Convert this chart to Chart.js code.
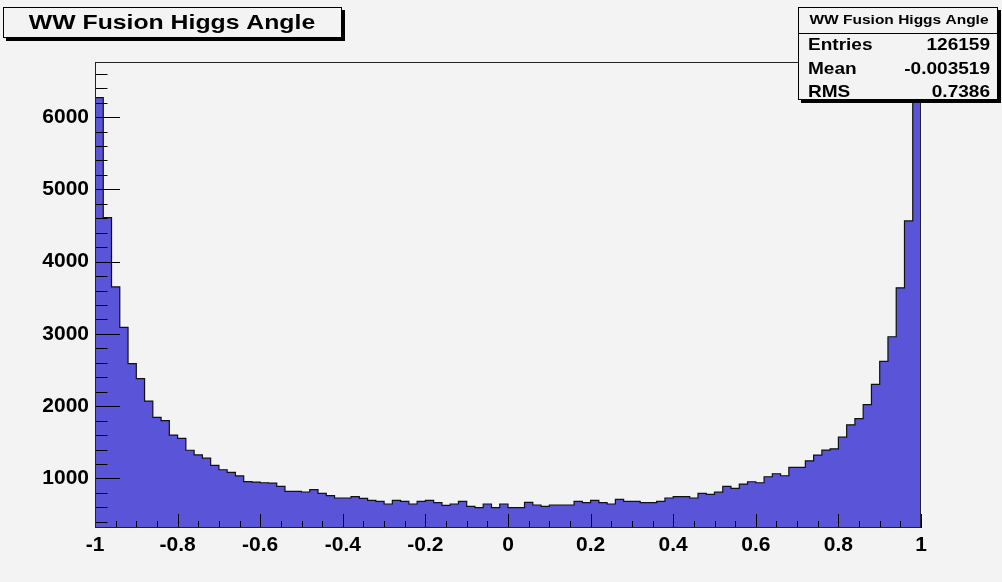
<!DOCTYPE html>
<html>
<head>
<meta charset="utf-8">
<title>WW Fusion Higgs Angle</title>
<script src="https://cdn.jsdelivr.net/npm/chart.js@4.4.1/dist/chart.umd.min.js"></script>
<style>
    html, body { margin: 0; padding: 0; background: #f3f3f3; }
    canvas { display: block; }
</style>
</head>
<body>
<canvas id="histo" width="1002" height="582"></canvas>
<script>
// histogram: 100 bins between -1 and 1, counts
const binLow = -1;
const binHigh = 1;
const counts = [
    6270, 4610, 3650, 3090, 2590, 2380, 2070, 1845, 1800, 1600,
    1555, 1390, 1325, 1280, 1180, 1120, 1085, 1035, 955, 950,
    940, 935, 890, 820, 820, 812, 844, 793, 761, 729,
    729, 747, 724, 696, 683, 646, 696, 683, 646, 683,
    696, 664, 627, 646, 683, 613, 595, 646, 595, 646,
    595, 595, 669, 632, 613, 632, 632, 632, 683, 664,
    696, 664, 646, 710, 683, 683, 664, 664, 683, 729,
    747, 747, 729, 793, 779, 810, 890, 862, 922, 954,
    940, 1023, 1065, 1037, 1152, 1152, 1244, 1323, 1392, 1410,
    1571, 1742, 1829, 2022, 2303, 2621, 2961, 3638, 4564, 6470
];
const xTicks = [-1, -0.8, -0.6, -0.4, -0.2, 0, 0.2, 0.4, 0.6, 0.8, 1];
const yTicks = [1000, 2000, 3000, 4000, 5000, 6000];
const yMin = 314;
const yMax = 6763;

const histTitle = "WW Fusion Higgs Angle";
const statsLabels = ["Entries", "Mean", "RMS"];
const statsValues = ["126159", "-0.003519", "0.7386"];

const FONT = "'Liberation Sans', Arial, Helvetica, sans-serif";
const FILL = "#5954d8";

// step points at each bin's low edge, plus the closing edge at x = 1
const binWidth = (binHigh - binLow) / counts.length;
const points = counts.map((c, i) => ({ x: binLow + i * binWidth, y: c }));
points.push({ x: binHigh, y: counts[counts.length - 1] });

// text is drawn a bit wider than the canvas font, like ROOT's Helvetica
function wideText(ctx, text, x, y, size, stretch, align){
    ctx.save();
    ctx.font = `bold ${size}px ${FONT}`;
    ctx.fillStyle = "#000";
    ctx.textBaseline = "alphabetic";
    ctx.textAlign = align;
    ctx.translate(x, y);
    ctx.scale(stretch, 1);
    ctx.fillText(text, 0, 0);
    ctx.restore();
}

function paveBox(ctx, x, y, w, h){
    ctx.save();
    ctx.fillStyle = "#000";
    ctx.fillRect(x + 3, y + h, w, 3);      // shadow bottom
    ctx.fillRect(x + w, y + 3, 3, h);      // shadow right
    ctx.fillStyle = "#f3f3f3";
    ctx.fillRect(x, y, w, h);
    ctx.strokeStyle = "#000";
    ctx.lineWidth = 1;
    ctx.strokeRect(x + 0.5, y + 0.5, w - 1, h - 1);
    ctx.restore();
}

const rootDecor = {
    id: "rootDecor",
    beforeDraw(chart){
        const { ctx, width, height } = chart;
        ctx.save();
        ctx.fillStyle = "#f3f3f3";
        ctx.fillRect(0, 0, width, height);
        ctx.restore();
    },
    afterDatasetsDraw(chart){
        const { ctx, chartArea: a, scales } = chart;
        const xs = scales.x, ys = scales.y;
        ctx.save();
        ctx.strokeStyle = "#000";
        ctx.lineWidth = 1;
        ctx.beginPath();
        // y ticks: major every 1000, minor every 200, drawn inward
        for (let v = Math.ceil(yMin / 200) * 200; v <= yMax; v += 200) {
            const py = Math.round(ys.getPixelForValue(v)) + 0.5;
            const len = v % 1000 === 0 ? 25 : 12.5;
            ctx.moveTo(a.left, py);
            ctx.lineTo(a.left + len, py);
        }
        // x ticks: major every 0.2, minor every 0.05
        for (let k = 0; k <= 40; k++) {
            const v = binLow + k * 0.05;
            const px = Math.round(xs.getPixelForValue(v)) + 0.5;
            const len = k % 4 === 0 ? 14 : 7;
            ctx.moveTo(px, a.bottom);
            ctx.lineTo(px, a.bottom - len);
        }
        ctx.stroke();
        ctx.strokeStyle = "#222";
        ctx.strokeRect(a.left + 0.5, a.top + 0.5, a.right - a.left - 1, a.bottom - a.top - 1);
        ctx.restore();
    },
    afterDraw(chart){
        const { ctx } = chart;

        // title pave
        paveBox(ctx, 3, 7, 339, 31);
        wideText(ctx, histTitle, 172, 29, 21, 1.18, "center");

        // stats pave
        paveBox(ctx, 798, 7, 200, 93);
        ctx.save();
        ctx.strokeStyle = "#000";
        ctx.beginPath();
        ctx.moveTo(798, 33.5);
        ctx.lineTo(998, 33.5);
        ctx.stroke();
        ctx.restore();
        wideText(ctx, histTitle, 899, 24, 12.5, 1.24, "center");
        const baselines = [50, 74, 97];
        statsLabels.forEach((lab, i) => {
            wideText(ctx, lab, 808, baselines[i], 17, 1.12, "left");
            wideText(ctx, statsValues[i], 990, baselines[i], 17, 1.12, "right");
        });
    }
};

new Chart(document.getElementById("histo"), {
    type: "line",
    data: {
        datasets: [{
            data: points,
            stepped: "before",
            fill: "start",
            backgroundColor: FILL,
            borderColor: "#111",
            borderWidth: 1.2,
            pointRadius: 0,
            tension: 0,
        }],
    },
    options: {
        responsive: false,
        devicePixelRatio: 1,
        animation: false,
        layout: { padding: { top: 62, right: 81, left: 0, bottom: 0 } },
        plugins: {
            legend: { display: false },
            tooltip: { enabled: false },
        },
        scales: {
            x: {
                type: "linear",
                min: binLow,
                max: binHigh,
                afterBuildTicks: (s) => { s.ticks = xTicks.map((v) => ({ value: v })); },
                afterFit: (s) => { s.height = 54; },
                grid: { display: false, drawTicks: false },
                border: { display: false },
                ticks: {
                    color: "#000",
                    font: { family: FONT, size: 21, weight: "bold" },
                    padding: 5,
                    maxRotation: 0,
                    autoSkip: false,
                    callback: (v) => String(v),
                },
            },
            y: {
                type: "linear",
                min: yMin,
                max: yMax,
                afterBuildTicks: (s) => { s.ticks = yTicks.map((v) => ({ value: v })); },
                afterFit: (s) => { s.width = 95; },
                grid: { display: false, drawTicks: false },
                border: { display: false },
                ticks: {
                    color: "#000",
                    font: { family: FONT, size: 21, weight: "bold" },
                    padding: 6,
                    callback: (v) => String(v),
                },
            },
        },
    },
    plugins: [rootDecor],
});
</script>
</body>
</html>
